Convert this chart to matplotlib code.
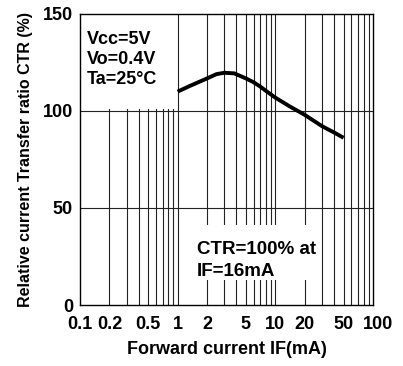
import matplotlib.pyplot as plt
import matplotlib.transforms as mtransforms
from matplotlib.patches import Rectangle

plt.rcParams['font.family'] = ['Liberation Sans', 'DejaVu Sans']
plt.rcParams['font.weight'] = 'bold'

# curve
IF_MA = [1, 1.33, 2, 2.5, 3, 3.8, 4, 5, 6, 7, 8, 10, 14, 20, 30, 40, 50]
CTR_REL = [110, 112.9, 116.8, 119, 119.7, 119.4, 118.9, 116.8, 114.8, 112.6,
           110.4, 106.9, 102.4, 98, 92.2, 88.9, 86.2]

XTICKS = [0.1, 0.2, 0.5, 1, 2, 5, 10, 20, 50, 100]
XTICK_LABELS = ['0.1', '0.2', '0.5', '1', '2', '5', '10', '20', '50', '100']
YTICKS = [0, 50, 100, 150]

fig = plt.figure(figsize=(4.03, 3.66), dpi=100)
ax = fig.add_axes([80 / 403, 61 / 366, 293 / 403, 291 / 366])

ax.set_xscale('log')
ax.set_xlim(0.1, 100)
ax.set_ylim(0, 150)

# grid lines drawn by hand so the text boxes can hide parts of them
grid_x = [m * 10.0 ** d for d in (-1, 0, 1) for m in range(2, 10)] + [1, 10]
for xv in grid_x:
    ax.axvline(xv, color='#222222', lw=0.8, zorder=1)
for yv in (50, 100):
    ax.axhline(yv, color='#222222', lw=0.8, zorder=1)

# white boxes behind the notes
ax.add_patch(Rectangle((0, 100.8 / 150), 96 / 293, 1 - 100.8 / 150, transform=ax.transAxes,
                       facecolor='white', edgecolor='none', zorder=2))
ax.add_patch(Rectangle((115 / 293, 25 / 291), 121 / 293, 55 / 291, transform=ax.transAxes,
                       facecolor='white', edgecolor='none', zorder=2))

ax.plot(IF_MA, CTR_REL, color='black', lw=2.8, zorder=3, solid_capstyle='butt')

ax.set_xticks(XTICKS)
ax.set_xticklabels(XTICK_LABELS)
ax.xaxis.set_minor_locator(plt.NullLocator())
ax.set_yticks(YTICKS)
ax.tick_params(length=0, labelsize=13, pad=8)
ax.tick_params(axis='y', pad=5)

# "100" sits a little right of its grid line in the original
lab = ax.get_xticklabels()[-1]
lab.set_transform(lab.get_transform() + mtransforms.ScaledTranslation(0.05, 0, fig.dpi_scale_trans))

for sp in ax.spines.values():
    sp.set_linewidth(1.0)
    sp.set_zorder(4)

ax.set_xlabel('Forward current IF(mA)', fontsize=13, fontweight='bold', labelpad=6)
ax.set_ylabel('Relative current Transfer ratio CTR (%)', fontsize=11.5, fontweight='bold', labelpad=7)

for txt, yp in (('Vcc=5V', 40), ('Vo=0.4V', 60), ('Ta=25°C', 79)):
    fig.text(87 / 403, 1 - yp / 366, txt, fontsize=13, fontweight='bold', va='center', ha='left')
fig.text(197 / 403, 1 - 250 / 366, 'CTR=100% at', fontsize=13.5, fontweight='bold', va='center', ha='left')
fig.text(197 / 403, 1 - 271 / 366, 'IF=16mA', fontsize=13.5, fontweight='bold', va='center', ha='left')

fig.savefig('out.png', dpi=100)
